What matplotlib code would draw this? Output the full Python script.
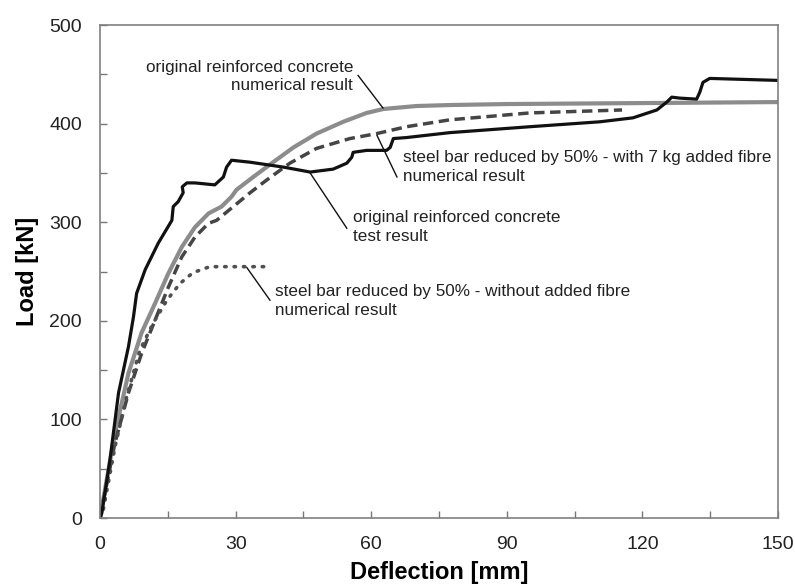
"""Load-deflection curves: test vs numerical results."""

import matplotlib
matplotlib.use("Agg")
import matplotlib.pyplot as plt
from matplotlib.ticker import MultipleLocator

# original reinforced concrete - test result
test_x = [0, 0.4, 2.2, 4.1, 6.3, 7.4, 8.1, 10, 12.9, 15.9, 16.2, 17.3, 18.4, 18.2,
          19.2, 21, 25.4, 27.3, 28, 29.1, 33.2, 40.6, 46.5, 51.6, 54.6, 55.7, 56.0,
          59, 63.4, 64.2, 64.9, 67.8, 77.4, 95.1, 110.6, 117.9, 123.2, 125.4, 126.5,
          128.3, 132, 132.7, 133.4, 134.9, 150]
test_y = [0, 5, 59, 127, 174, 204, 228, 252, 279, 302, 316, 321, 330, 336,
          340, 340, 338, 346, 356, 363, 361, 356, 351, 354, 360, 366, 371,
          373, 373, 376, 385, 386, 391, 397, 402, 406, 414, 422, 427,
          426, 425, 432, 442, 446, 444]

# original reinforced concrete - numerical result
num_x = [0, 3.3, 6.3, 9.2, 12.2, 15.1, 18.1, 21, 24, 26.9, 29.1, 30.2, 33.9, 38.3,
         42.8, 47.9, 53.8, 59, 62.7, 70, 77.4, 90, 150]
num_y = [0, 86, 147, 188, 218, 248, 275, 295, 309, 316, 326, 333, 346, 361,
         376, 390, 402, 411, 415, 418, 419, 420, 422]

# steel bar reduced by 50% - with 7 kg added fibre
fib_x = [0, 3.3, 6.3, 9.2, 12.2, 15.1, 18.1, 21, 24, 25.8, 29.5, 33.2, 36.9, 42,
         47.9, 55.3, 61.2, 67.8, 77.4, 95.1, 115.5]
fib_y = [0, 76, 127, 167, 201, 234, 265, 285, 299, 302, 316, 330, 343, 360,
         375, 385, 390, 397, 404, 411, 414]

# steel bar reduced by 50% - without added fibre
nof_x = [0, 0.7, 3.3, 5.9, 8.8, 11.8, 14.8, 17.7, 20.6, 24.3, 37.6]
nof_y = [0, 8, 72, 123, 170, 198, 221, 238, 249, 255, 255]

plt.rcParams["font.family"] = ["Liberation Sans", "DejaVu Sans"]

fig = plt.figure(figsize=(7.95, 5.86), dpi=100)
ax = fig.add_axes([0.1258, 0.116, 0.8528, 0.841])

ax.plot(num_x, num_y, color="#8c8c8c", lw=3.0, solid_joinstyle="round")
ax.plot(fib_x, fib_y, color="#454545", lw=2.5, linestyle=(0, (3, 1.6)))
ax.plot(nof_x, nof_y, color="#505050", lw=2.6, linestyle=(0, (0.4, 2.2)),
        dash_capstyle="round")
ax.plot(test_x, test_y, color="#111111", lw=2.3, solid_joinstyle="round")

ax.set_xlim(0, 150)
ax.set_ylim(0, 500)
ax.xaxis.set_major_locator(MultipleLocator(30))
ax.xaxis.set_minor_locator(MultipleLocator(15))
ax.yaxis.set_major_locator(MultipleLocator(100))
ax.yaxis.set_minor_locator(MultipleLocator(50))
ax.tick_params(which="both", direction="in", length=5, width=1, color="#777777",
               labelsize=14, labelcolor="#222222")
ax.tick_params(axis="x", pad=13)
ax.tick_params(axis="y", pad=13)
for sp in ax.spines.values():
    sp.set_color("#808080")
    sp.set_linewidth(1.2)

ax.set_xlabel("Deflection [mm]", fontsize=17, fontweight="bold", labelpad=6)
ax.set_ylabel("Load [kN]", fontsize=17, fontweight="bold", labelpad=7)

note = dict(fontsize=12.3, color="#222222", linespacing=1.3)
line = dict(color="#111111", lw=1.0)

ax.text(56, 448, "original reinforced concrete\nnumerical result",
        ha="right", va="center", **note)
ax.plot([57.1, 62.6], [449, 416], **line)

ax.text(67, 356, "steel bar reduced by 50% - with 7 kg added fibre\nnumerical result",
        ha="left", va="center", **note)
ax.plot([65.7, 61.3], [346, 388], **line)

ax.text(56, 295, "original reinforced concrete\ntest result",
        ha="left", va="center", **note)
ax.plot([54.6, 46.5], [294, 350], **line)

ax.text(38.7, 220, "steel bar reduced by 50% - without added fibre\nnumerical result",
        ha="left", va="center", **note)
ax.plot([37.6, 32.5], [221, 254], **line)

fig.savefig("out.png", dpi=100)
